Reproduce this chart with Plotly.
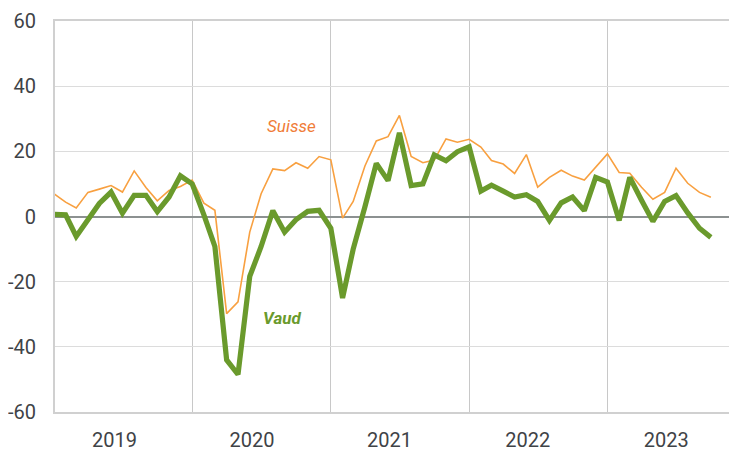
import plotly.graph_objects as go
import pandas as pd

months = pd.date_range("2019-01-01", "2023-10-01", freq="MS")

vaud = [0.7, 0.5, -6.1, -1, 4, 7.5, 1, 6.5, 6.5, 1.5, 6, 12.5,
        10, 0.5, -9.2, -44, -48.5, -18.4, -9.2, 1.8, -4.8, -1, 1.6, 1.9,
        -3.6, -25, -10, 3, 16.3, 11, 25.7, 9.5, 10, 18.9, 17.1, 19.9,
        21.4, 7.8, 9.6, 7.8, 6, 6.7, 4.6, -1.2, 4.2, 6, 1.8, 12,
        10.6, -1.2, 12, 5, -1.5, 4.6, 6.4, 1.1, -3.6, -6.4]

suisse = [7, 4.4, 2.6, 7.4, 8.4, 9.5, 7.5, 14, 8.9, 4.8, 8, 9.2,
          11.2, 4.1, 1.9, -29.8, -26.2, -4.8, 7, 14.6, 14.1, 16.5, 14.8, 18.4,
          17.4, -0.5, 4.6, 15.5, 23.2, 24.5, 31, 18.4, 16.5, 17.3, 23.8, 22.8,
          23.7, 21.3, 17.2, 16.1, 13.2, 19, 9, 12, 14.2, 12.4, 11.2, 15.3,
          19.2, 13.5, 13.3, 9, 5.3, 7.4, 14.8, 10.2, 7.4, 5.9]

year_labels = ["2019", "2020", "2021", "2022", "2023"]
year_label_pos = ["2019-06-10", "2020-06-07", "2021-06-05", "2022-06-05", "2023-06-05"]
y_ticks = [-60, -40, -20, 0, 20, 40, 60]
y_tick_text = ["-60", "-40", "-20", "0", "20", "40", "60"]

FONT = "Roboto, Liberation Sans, sans-serif"
GREEN = "#6a9a2c"
ORANGE = "#f8a040"

fig = go.Figure()
fig.add_trace(go.Scatter(x=months, y=suisse, mode="lines", name="Suisse",
                         line=dict(color=ORANGE, width=1.6)))
fig.add_trace(go.Scatter(x=months, y=vaud, mode="lines", name="Vaud",
                         line=dict(color=GREEN, width=5.2)))

fig.add_annotation(x="2020-09-20", y=27.8, text="<i>Suisse</i>", showarrow=False,
                   font=dict(family="Roboto, Liberation Sans, sans-serif", size=17, color="#f07c38"))
fig.add_annotation(x="2020-08-25", y=-31, text="<b><i>Vaud</i></b>", showarrow=False,
                   font=dict(family="Roboto, Liberation Sans, sans-serif", size=17, color=GREEN))

fig.update_layout(
    width=729, height=446,
    margin=dict(l=47, r=0, t=13, b=42, autoexpand=False),
    plot_bgcolor="white", paper_bgcolor="white",
    showlegend=False,
    font=dict(family=FONT, size=20, color="#3f4347"),
    xaxis=dict(
        range=["2019-01-04", "2023-12-09"],
        tickmode="array", tickvals=year_label_pos, ticktext=year_labels,
        ticks="", showgrid=False, automargin=False,
        ticklabelstandoff=9,
        showline=True, linecolor="#d0d0d0", linewidth=2, mirror=True,
        minor=dict(tickmode="linear", tick0="2020-01-01", dtick="M12",
                   showgrid=True, gridcolor="#c8c8c8", gridwidth=1, ticks=""),
        zeroline=False,
    ),
    yaxis=dict(
        range=[-60, 60], tickmode="array", tickvals=y_ticks, ticktext=y_tick_text,
        ticks="", ticklabelstandoff=13, automargin=False,
        showgrid=True, gridcolor="#dcdcdc", gridwidth=1,
        zeroline=True, zerolinecolor="#8c9191", zerolinewidth=2,
        showline=True, linecolor="#d0d0d0", linewidth=2,
    ),
)

fig.write_html("out.html")
